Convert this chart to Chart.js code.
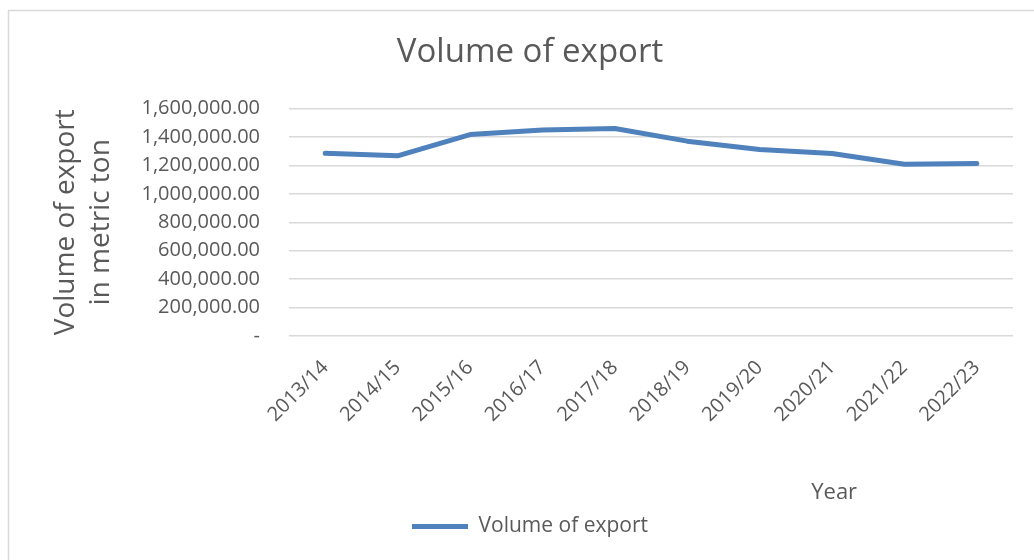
<!DOCTYPE html>
<html>
<head>
<meta charset="utf-8">
<script src="https://cdn.jsdelivr.net/npm/chart.js@4/dist/chart.umd.min.js"></script>
<style>
  html, body { margin: 0; padding: 0; background: #fff; }
  #wrap { width: 1034px; height: 560px; }
</style>
</head>
<body>
<div id="wrap"><canvas id="graficoExport" width="1034" height="560"></canvas></div>
<script>
const anios = ['2013/14', '2014/15', '2015/16', '2016/17', '2017/18', '2018/19', '2019/20', '2020/21', '2021/22', '2022/23'];
const volumenExport = [1286000, 1268000, 1417000, 1450000, 1460000, 1371000, 1312000, 1284000, 1209000, 1214000];
const ticksY = [0, 200000, 400000, 600000, 800000, 1000000, 1200000, 1400000, 1600000];

const gris = '#595959';
const azul = '#4F81BD';
const fuente = '"Open Sans", sans-serif';

// marco de la grafica (solo lineas de arriba e izquierda quedan dentro del recorte)
const marcoPlugin = {
  id: 'marco',
  beforeDraw(chart) {
    const ctx = chart.ctx;
    ctx.save();
    ctx.fillStyle = '#fff';
    ctx.fillRect(0, 0, chart.width, chart.height);
    ctx.strokeStyle = '#D9D9D9';
    ctx.lineWidth = 1.5;
    ctx.beginPath();
    ctx.moveTo(8.5, chart.height);
    ctx.lineTo(8.5, 10.5);
    ctx.lineTo(chart.width, 10.5);
    ctx.stroke();
    ctx.restore();
  }
};

// titulo del eje x desplazado a la derecha, como en Excel
const tituloXPlugin = {
  id: 'tituloX',
  afterDraw(chart) {
    const { ctx, chartArea } = chart;
    ctx.save();
    ctx.font = '22px ' + fuente;
    ctx.fillStyle = gris;
    ctx.textAlign = 'center';
    ctx.textBaseline = 'middle';
    ctx.fillText('Year', chartArea.left + chartArea.width * 0.753, 493);
    ctx.restore();
  }
};

new Chart(document.getElementById('graficoExport').getContext('2d'), {
  type: 'line',
  data: {
    labels: anios,
    datasets: [{
      label: 'Volume of export',
      data: volumenExport,
      borderColor: azul,
      backgroundColor: azul,
      borderWidth: 5,
      borderCapStyle: 'round',
      borderJoinStyle: 'round',
      pointRadius: 0,
      tension: 0
    }]
  },
  options: {
    responsive: false,
    animation: false,
    layout: { padding: { left: 47, right: 21, top: 0, bottom: 13 } },
    plugins: {
      title: {
        display: true,
        text: 'Volume of export',
        color: gris,
        font: { family: fuente, size: 33, weight: 'normal', lineHeight: 1.2 },
        padding: { top: 33, bottom: 36 }
      },
      legend: {
        position: 'bottom',
        labels: {
          color: gris,
          font: { family: fuente, size: 21 },
          usePointStyle: true,
          pointStyle: 'line',
          pointStyleWidth: 56,
          boxHeight: 21,
          padding: 10
        }
      },
      tooltip: { enabled: false }
    },
    scales: {
      x: {
        offset: true,
        grid: { display: false },
        border: { display: false },
        ticks: {
          color: gris,
          font: { family: fuente, size: 20 },
          minRotation: 45,
          maxRotation: 45,
          padding: 12
        },
        afterFit: s => { s.height = 170; }
      },
      y: {
        min: 0,
        max: 1600000,
        afterBuildTicks: s => { s.ticks = ticksY.map(v => ({ value: v })); },
        grid: { color: '#D9D9D9', lineWidth: 1.5, drawTicks: false },
        border: { display: false },
        ticks: {
          color: gris,
          font: { family: fuente, size: 20 },
          padding: 29,
          callback: v => v === 0 ? '-' : v.toLocaleString('en-US', { minimumFractionDigits: 2, maximumFractionDigits: 2 })
        },
        title: {
          display: true,
          text: ['Volume of export', 'in metric ton'],
          color: gris,
          font: { family: fuente, size: 28, lineHeight: 1.25 },
          padding: { top: 2, bottom: 0 }
        },
        afterFit: s => { s.width = 242; }
      }
    }
  },
  plugins: [marcoPlugin, tituloXPlugin]
});
</script>
</body>
</html>
